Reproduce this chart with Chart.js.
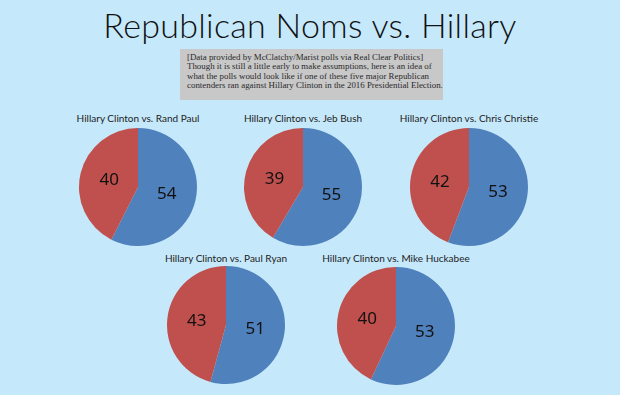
<!DOCTYPE html>
<html>
<head>
<meta charset="utf-8">
<script src="https://cdn.jsdelivr.net/npm/chart.js@4"></script>
<style>
  html, body { margin: 0; padding: 0; }
  body { width: 620px; height: 395px; background: #c5e8fb; position: relative; overflow: hidden; }
  #title {
    position: absolute; left: 0; top: 4px; width: 620px; text-align: center;
    font-family: "Lato", sans-serif; font-weight: 300; font-size: 34px; color: #111; letter-spacing: 0.3px;
  }
  #note {
    position: absolute; left: 180px; top: 49px; width: 250px; height: 44px;
    padding: 4px 6px 3px 7px; background: #c8c8c8; white-space: nowrap;
    font-family: "Liberation Serif", serif; font-size: 8.9px; line-height: 9.3px; color: #2a2a2a;
  }
  .pie { position: absolute; width: 180px; }
  .pie .t {
    text-align: center; font-family: "Lato", sans-serif; font-size: 10px; color: #222;
    height: 14px; line-height: 14px;
  }
  .pie canvas { position: absolute; }
</style>
</head>
<body>
<div id="title">Republican Noms vs. Hillary</div>
<div id="note">[Data provided by McClatchy/Marist polls via Real Clear Politics]<br>
Though it is still a little early to make assumptions, here is an idea of<br>
what the polls would look like if one of these five major Republican<br>
contenders ran against Hillary Clinton in the 2016 Presidential Election.</div>

<script>
// Poll numbers: Clinton vs each Republican contender
const opponents = ['Rand Paul', 'Jeb Bush', 'Chris Christie', 'Paul Ryan', 'Mike Huckabee'];
const clintonPct = [54, 55, 53, 51, 53];
const republicanPct = [40, 39, 42, 43, 40];

// pie centres and title line on the page
const layout = [
    { cx: 138, cy: 187, ty: 111 },
    { cx: 303, cy: 187, ty: 111 },
    { cx: 469, cy: 187, ty: 111 },
    { cx: 226, cy: 325, ty: 251 },
    { cx: 396, cy: 326, ty: 251 }
];

const R = 59;

// draw the value in the middle of each slice
const sliceLabels = {
    id: 'sliceLabels',
    afterDatasetsDraw(chart) {
        const ctx = chart.ctx;
        const ds = chart.data.datasets[0];
        chart.getDatasetMeta(0).data.forEach((arc, i) => {
            const p = arc.tooltipPosition();
            ctx.save();
            ctx.font = '17px "Noto Sans", sans-serif';
            ctx.fillStyle = '#111';
            ctx.textAlign = 'center';
            ctx.textBaseline = 'middle';
            ctx.fillText(ds.data[i], p.x, p.y);
            ctx.restore();
        });
    }
};

opponents.forEach((name, i) => {
    const pos = layout[i];
    const box = document.createElement('div');
    box.className = 'pie';
    box.style.left = (pos.cx - 90) + 'px';
    box.style.top = pos.ty + 'px';

    const t = document.createElement('div');
    t.className = 't';
    t.textContent = 'Hillary Clinton vs. ' + name;
    box.appendChild(t);
    document.body.appendChild(box);

    const size = 2 * R + 2;
    const canvas = document.createElement('canvas');
    canvas.width = size;
    canvas.height = size;
    canvas.style.left = (pos.cx - size / 2) + 'px';
    canvas.style.top = (pos.cy - size / 2) + 'px';
    canvas.style.position = 'absolute';
    document.body.appendChild(canvas);

    new Chart(canvas.getContext('2d'), {
        type: 'pie',
        data: {
            labels: ['Clinton', name],
            datasets: [{
                data: [clintonPct[i], republicanPct[i]],
                backgroundColor: ['#4f81bd', '#c0504d'],
                borderWidth: 0
            }]
        },
        options: {
            responsive: false,
            animation: false,
            layout: { padding: 1 },
            plugins: {
                legend: { display: false },
                tooltip: { enabled: false }
            }
        },
        plugins: [sliceLabels]
    });
});
</script>
</body>
</html>
